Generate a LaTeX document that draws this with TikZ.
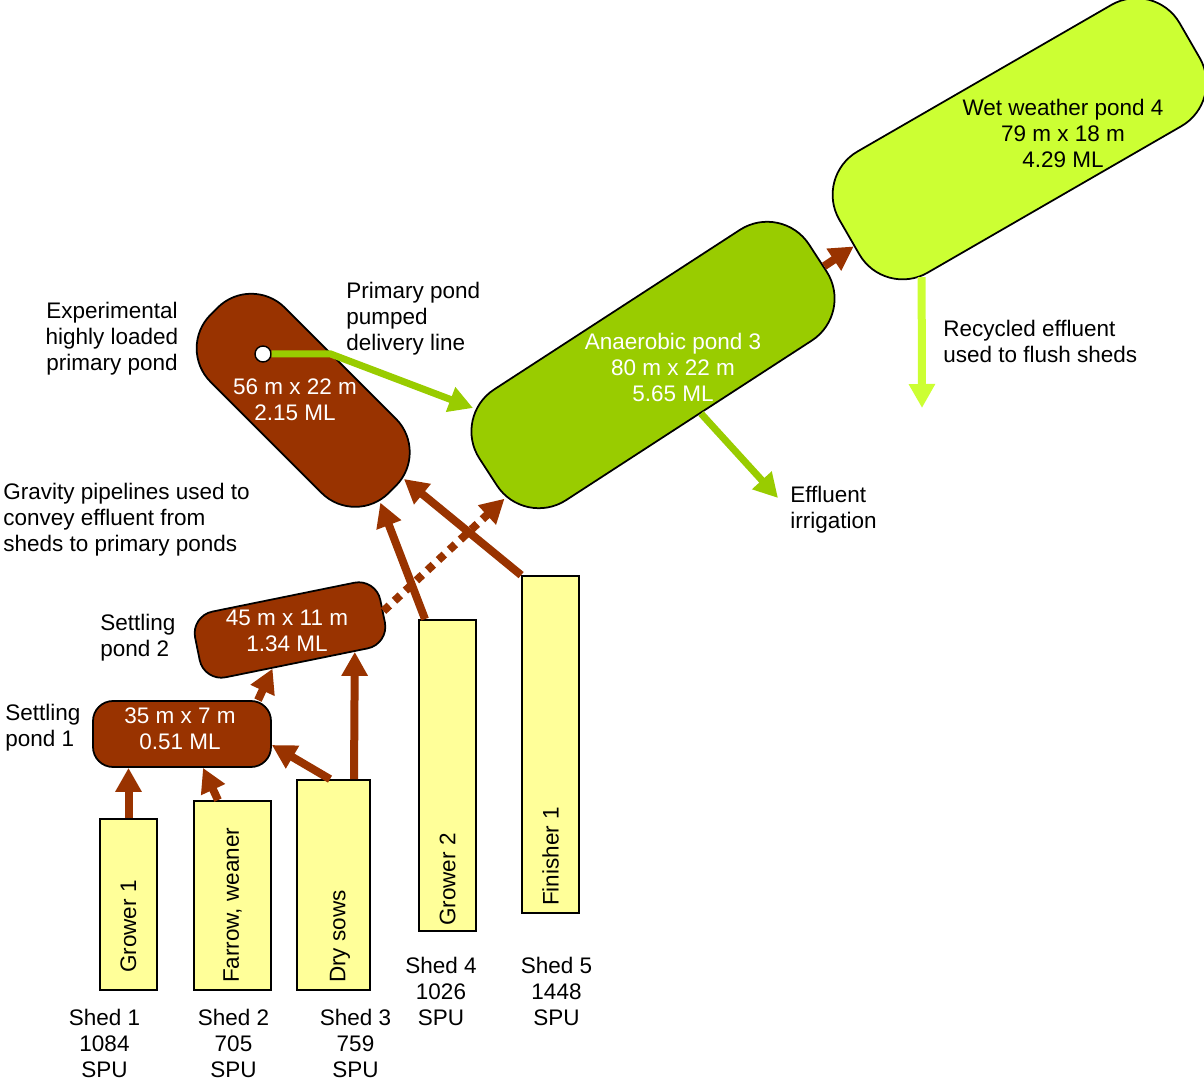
\documentclass[tikz,border=0pt]{standalone}
\usepackage{fontspec}
\setmainfont{Liberation Sans}
\usepackage{xcolor}
\usepackage{tikz}
\usetikzlibrary{arrows.meta,calc,positioning}
\definecolor{pondbrown}{HTML}{993300}
\definecolor{anaerogreen}{HTML}{99CC00}
\definecolor{wetgreen}{HTML}{CCFF33}
\definecolor{shedyellow}{HTML}{FFFF99}
\newcommand{\ptext}{\fontsize{12.8}{14.8}\selectfont}

\begin{document}
\begin{tikzpicture}[
  every node/.style={font=\ptext},
  pond/.style={draw=black,line width=1pt,inner sep=0pt},
  shed/.style={draw=black,fill=shedyellow,line width=1pt,inner sep=0pt},
  shedtxt/.style={rotate=90,anchor=west,inner sep=1pt},
  shedlbl/.style={align=center,inner sep=0.5pt},
  pondtxt/.style={text=white,align=center,inner sep=1pt},
  lbl/.style={align=left,anchor=west,inner sep=1pt},
  pipe/.style={draw=pondbrown,line width=0.16cm,-{Triangle[length=0.48cm,width=0.5cm]}},
  feed/.style={draw=anaerogreen,line width=0.14cm,-{Triangle[length=0.48cm,width=0.5cm]}},
  recycle/.style={draw=wetgreen,line width=0.16cm,-{Triangle[length=0.48cm,width=0.5cm]}}
]
\useasboundingbox (0,0) rectangle (24.08,21.62);
\node[pond,fill=pondbrown,minimum width=3.56cm,minimum height=1.32cm,rounded corners=0.4cm] (pondA) at (3.64,6.94) {};
\node[pond,fill=pondbrown,rotate=11.5,minimum width=3.78cm,minimum height=1.34cm,rounded corners=0.44cm] (pondB) at (5.8,9.02) {};
\node[pond,fill=pondbrown,rotate=-45,minimum width=5.04cm,minimum height=2.1cm,rounded corners=0.95cm] (pondP) at (6.064,13.614) {};
\node[pond,fill=anaerogreen,rotate=33,minimum width=7.86cm,minimum height=2.64cm,rounded corners=1cm] (pondC) at (13.06,14.32) {};
\node[pond,fill=wetgreen,rotate=30,minimum width=7.86cm,minimum height=2.8cm,rounded corners=1cm] (pondD) at (20.39,18.844) {};
\node[circle,draw=black,fill=white,line width=0.8pt,minimum size=0.32cm,inner sep=0pt] (outlet) at (5.26,14.54) {};
\node[pondtxt] (pondAtxt) at (3.6,7.04) {35 m x 7 m\\0.51 ML};
\node[pondtxt] (pondBtxt) at (5.74,9.0) {45 m x 11 m\\1.34 ML};
\node[pondtxt] (pondPtxt) at (5.9,13.62) {56 m x 22 m\\2.15 ML};
\node[pondtxt] (pondCtxt) at (13.46,14.28) {Anaerobic pond 3\\80 m x 22 m\\5.65 ML};
\node[pondtxt,text=black] (pondDtxt) at (21.26,18.96) {Wet weather pond 4\\79 m x 18 m\\4.29 ML};
\node[shed,minimum width=1.14cm,minimum height=3.42cm] (shedA) at (2.57,3.53) {};
\node[shed,minimum width=1.54cm,minimum height=3.78cm] (shedB) at (4.65,3.71) {};
\node[shed,minimum width=1.46cm,minimum height=4.2cm] (shedC) at (6.67,3.92) {};
\node[shed,minimum width=1.14cm,minimum height=6.22cm] (shedD) at (8.95,6.11) {};
\node[shed,minimum width=1.14cm,minimum height=6.74cm] (shedE) at (11.01,6.73) {};
\node[shedtxt] (shedAtxt) at ([yshift=0.32cm]shedA.south) {Grower 1};
\node[shedtxt] (shedBtxt) at ([yshift=0.12cm]shedB.south) {Farrow, weaner};
\node[shedtxt] (shedCtxt) at ([xshift=0.13cm,yshift=0.12cm]shedC.south) {Dry sows};
\node[shedtxt] (shedDtxt) at ([yshift=0.08cm]shedD.south) {Grower 2};
\node[shedtxt] (shedEtxt) at ([yshift=0.12cm]shedE.south) {Finisher 1};
\node[shedlbl] (shedAlbl) at (2.09,0.76) {Shed 1\\1084\\SPU};
\node[shedlbl] (shedBlbl) at (4.67,0.76) {Shed 2\\705\\SPU};
\node[shedlbl] (shedClbl) at (7.11,0.76) {Shed 3\\759\\SPU};
\node[shedlbl] (shedDlbl) at (8.82,1.8) {Shed 4\\1026\\SPU};
\node[shedlbl] (shedElbl) at (11.13,1.8) {Shed 5\\1448\\SPU};
\node[align=center] (primlbl) at (2.24,14.84) {Experimental\\highly loaded\\primary pond};
\node[lbl] (pumplbl) at (6.885,15.24) {Primary pond\\pumped\\delivery line};
\node[lbl] (gravlbl) at (0.025,11.22) {Gravity pipelines used to\\convey effluent from\\sheds to primary ponds};
\node[lbl] (set2lbl) at (1.965,8.87) {Settling\\pond 2};
\node[lbl] (set1lbl) at (0.065,7.06) {Settling\\pond 1};
\node[lbl] (irriglbl) at (15.765,11.42) {Effluent\\irrigation};
\node[lbl] (flushlbl) at (18.825,14.79) {Recycled effluent\\used to flush sheds};
\coordinate (irrigtip) at (15.56,11.66);
\coordinate (flushtip) at (18.44,13.46);
\draw[pipe] (shedA.north) -- (shedA.north |- pondA.south);
\draw[pipe] ([xshift=-0.29cm]shedB.north) -- ([xshift=0.42cm]pondA.south);
\draw[pipe] ([xshift=-0.07cm]shedC.north) -- ([yshift=-0.22cm]pondA.east);
\draw[pipe] ([xshift=0.41cm]shedC.north) -- ($(pondB.south west)!0.81!(pondB.south east)$);
\draw[pipe] ([xshift=1.52cm]pondA.north) -- ($(pondB.south west)!0.37!(pondB.south east)$);
\draw[pipe,dash pattern=on 0.16cm off 0.14cm] (pondB.east) -- (pondC.189);
\draw[pipe] ([xshift=-0.45cm]shedD.north) -- (pondP.-8);
\draw[pipe] (shedE.north west) -- (pondP.7);
\draw[pipe] (pondC.-3) -- (pondD.183);
\draw[feed] (outlet.east) -- ++(1.18,0) -- ([shift={(-3.6,-0.86)}]pondC.center);
\draw[feed] ($(pondC.south)!0.07!(pondC.south east)$) -- (irrigtip);
\draw[recycle] ($(pondD.south west)!0.22!(pondD.south)$) -- (flushtip);
\end{tikzpicture}
\end{document}
